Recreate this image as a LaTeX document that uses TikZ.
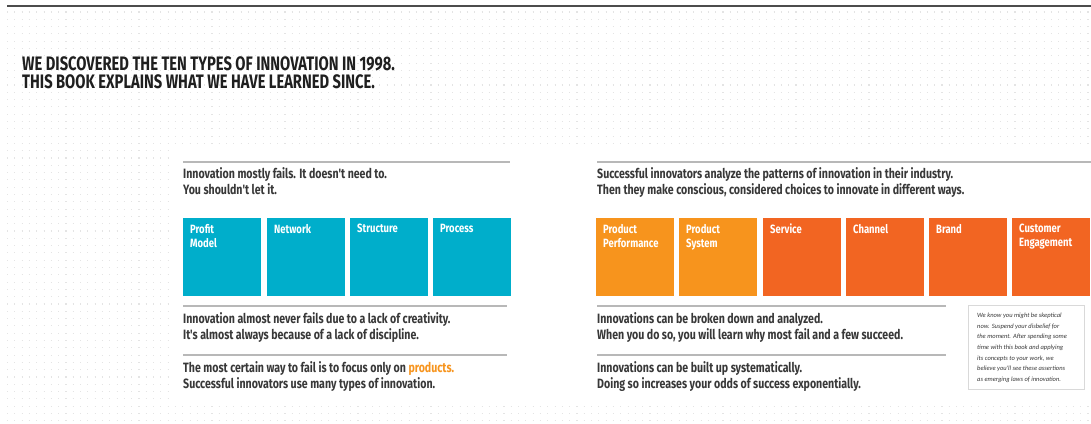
\documentclass[tikz,border=0pt]{standalone}
\usepackage{fontspec}
\setmainfont{PT Sans}
\newfontfamily\cond{Fira Sans}[FakeStretch=0.785]
\newfontfamily\condt{Fira Sans}[FakeStretch=0.755]
\newfontfamily\condl{Fira Sans}[FakeStretch=0.79]
\newfontfamily\notefont{Carlito}
\definecolor{tealbox}{HTML}{00AECB}
\definecolor{orgL}{HTML}{F7941D}
\definecolor{orgD}{HTML}{F26522}
\definecolor{txt}{HTML}{383838}
\definecolor{rulec}{HTML}{B8B8B8}
\definecolor{dotc}{HTML}{E4E4E4}
\begin{document}
\begin{tikzpicture}[x=1pt,y=-1pt,
  body/.style={font=\cond\bfseries\fontsize{13.5}{16.5}\selectfont, text=txt, anchor=north west, inner sep=0pt, align=left},
  title/.style={font=\condt\bfseries\fontsize{19.5}{18}\selectfont, text=black!88, anchor=north west, inner sep=0pt, align=left},
  sq/.style={minimum width=78pt, minimum height=78pt, anchor=north west, inner sep=0pt, draw=none},
  lbl/.style={font=\condl\bfseries\fontsize{12}{14}\selectfont, text=white, anchor=north west, inner sep=0pt, align=left},
  hrule/.style={draw=rulec, line width=1.3pt},
  note/.style={font=\notefont\itshape\fontsize{6.5}{10.6}\selectfont, text=txt, anchor=north west, inner sep=0pt, align=left}]
\useasboundingbox (0,0) rectangle (1091,423);
\fill[white] (0,0) rectangle (1091,423);
% dotted background
\foreach \y in {12,19.3,...,421}
  \draw[dotc, line width=1.1pt, dash pattern=on 1.1pt off 6.2pt] (7,\y) -- (1091,\y);
\fill[white] (170,148) rectangle (1091,405);
% top rule
\draw[black!70, line width=1.5pt] (7,6) -- (1091,6);
% title
\node[title] (ttl) at (22,56) {WE DISCOVERED THE TEN TYPES OF INNOVATION IN 1998.\\THIS BOOK EXPLAINS WHAT WE HAVE LEARNED SINCE.};

% ---------- left column ----------
\coordinate (l1a) at (183,162); \coordinate (l1b) at (510,162);
\draw[hrule] (l1a) -- (l1b);
\node[body] (lt1) at (183,167) {Innovation mostly fails. It doesn't need to.\\You shouldn't let it.};
\node[sq, fill=tealbox] (b1) at (183,218) {};
\node[sq, fill=tealbox] (b2) at (267,218) {};
\node[sq, fill=tealbox] (b3) at (350,218) {};
\node[sq, fill=tealbox] (b4) at (433,218) {};
\node[lbl] (b1t) at ([xshift=7pt,yshift=-6pt]b1.north west) {Profit\\Model};
\node[lbl] (b2t) at ([xshift=7pt,yshift=-6pt]b2.north west) {Network};
\node[lbl] (b3t) at ([xshift=7pt,yshift=-6pt]b3.north west) {Structure};
\node[lbl] (b4t) at ([xshift=7pt,yshift=-6pt]b4.north west) {Process};
\coordinate (l2a) at (183,306); \coordinate (l2b) at (507,306);
\draw[hrule] (l2a) -- (l2b);
\node[body] (lt2) at (183,312) {Innovation almost never fails due to a lack of creativity.\\It's almost always because of a lack of discipline.};
\coordinate (l3a) at (183,355); \coordinate (l3b) at (507,355);
\draw[hrule] (l3a) -- (l3b);
\node[body] (lt3) at (183,361) {The most certain way to fail is to focus only on \textcolor{orgL}{products.}\\Successful innovators use many types of innovation.};

% ---------- right column ----------
\coordinate (r1a) at (597,162); \coordinate (r1b) at (1091,162);
\draw[hrule] (r1a) -- (r1b);
\node[body] (rt1) at (597,167) {Successful innovators analyze the patterns of innovation in their industry.\\Then they make conscious, considered choices to innovate in different ways.};
\node[sq, fill=orgL] (c1) at (596,218) {};
\node[sq, fill=orgL] (c2) at (679,218) {};
\node[sq, fill=orgD] (c3) at (763,218) {};
\node[sq, fill=orgD] (c4) at (846,218) {};
\node[sq, fill=orgD] (c5) at (929,218) {};
\node[sq, fill=orgD] (c6) at (1012,218) {};
\node[lbl] (c1t) at ([xshift=7pt,yshift=-6pt]c1.north west) {Product\\Performance};
\node[lbl] (c2t) at ([xshift=7pt,yshift=-6pt]c2.north west) {Product\\System};
\node[lbl] (c3t) at ([xshift=7pt,yshift=-6pt]c3.north west) {Service};
\node[lbl] (c4t) at ([xshift=7pt,yshift=-6pt]c4.north west) {Channel};
\node[lbl] (c5t) at ([xshift=7pt,yshift=-6pt]c5.north west) {Brand};
\node[lbl] (c6t) at ([xshift=7pt,yshift=-6pt]c6.north west) {Customer\\Engagement};
\coordinate (r2a) at (597,306); \coordinate (r2b) at (946,306);
\draw[hrule] (r2a) -- (r2b);
\node[body] (rt2) at (597,312) {Innovations can be broken down and analyzed.\\When you do so, you will learn why most fail and a few succeed.};
\coordinate (r3a) at (597,355); \coordinate (r3b) at (946,355);
\draw[hrule] (r3a) -- (r3b);
\node[body] (rt3) at (597,361) {Innovations can be built up systematically.\\Doing so increases your odds of success exponentially.};

% note box
\node[draw=black!15, fill=white, line width=0.8pt, minimum width=116pt, minimum height=84pt, anchor=north west, inner sep=0pt] (nb) at (968,305) {};
\node[note] (nt) at ([xshift=9pt,yshift=-8pt]nb.north west) {We know you might be skeptical\\now. Suspend your disbelief for\\the moment. After spending some\\time with this book and applying\\its concepts to your work, we\\believe you'll see these assertions\\as emerging laws of innovation.};
\end{tikzpicture}
\end{document}
